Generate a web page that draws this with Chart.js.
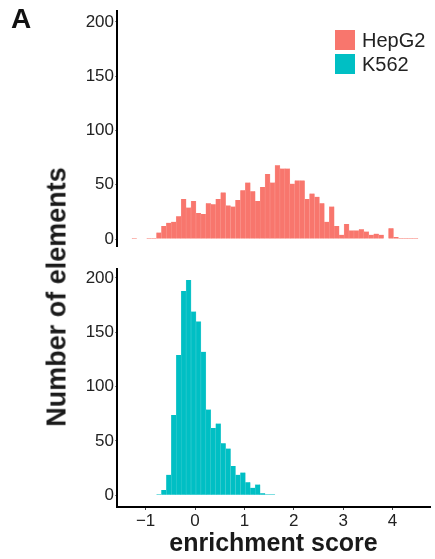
<!DOCTYPE html>
<html>
<head>
<meta charset="utf-8">
<script src="https://cdn.jsdelivr.net/npm/chart.js@4.4.0/dist/chart.umd.min.js"></script>
<style>
  body { margin: 0; background: #fff; }
  #wrap { position: relative; width: 435px; height: 559px; background: #fff; font-family: "Liberation Sans", Arial, Helvetica, sans-serif; }
  canvas { position: absolute; left: 0; }
  #panel-label { position: absolute; left: 11px; top: 5px; font-size: 28px; font-weight: bold; color: #111; line-height: 1; }
  #y-title { position: absolute; left: 57px; top: 297px; transform: translate(-50%, -50%) rotate(-90deg); font-size: 27px; font-weight: bold; color: #1a1a1a; white-space: nowrap; line-height: 1; }
  #legend { position: absolute; left: 335px; top: 28px; }
  .legend-row { display: flex; align-items: center; height: 24px; }
  .legend-key { width: 20px; height: 20px; margin-right: 7px; }
  .legend-text { font-size: 20px; color: #222; line-height: 1; }
</style>
</head>
<body>
<div id="wrap">
  <canvas id="top-chart" width="435" height="258" style="top:0"></canvas>
  <canvas id="bottom-chart" width="435" height="301" style="top:258px"></canvas>
  <div id="panel-label">A</div>
  <div id="y-title">Number of elements</div>
  <div id="legend"></div>
</div>
<script>
// bin centres of the histograms (enrichment score)
const binCenters = [
  -1.23, -1.13, -1.03, -0.93, -0.83, -0.73, -0.63, -0.53, -0.43, -0.33,
  -0.23, -0.13, -0.03, 0.07, 0.17, 0.27, 0.37, 0.47, 0.57, 0.67,
  0.77, 0.87, 0.97, 1.07, 1.17, 1.27, 1.37, 1.47, 1.57, 1.67,
  1.77, 1.87, 1.97, 2.07, 2.17, 2.27, 2.37, 2.47, 2.57, 2.67,
  2.77, 2.87, 2.97, 3.07, 3.17, 3.27, 3.37, 3.47, 3.57, 3.67,
  3.77, 3.87, 3.97, 4.07, 4.17, 4.27, 4.37, 4.47
];

// counts per bin
const hepg2Counts = [
  1, 0, 0, 1, 1, 6, 12, 15, 16, 21,
  37, 29, 35, 24, 23, 33, 32, 37, 43, 31,
  30, 36, 45, 52, 44, 35, 48, 60, 52, 68,
  65, 65, 51, 54, 54, 37, 42, 39, 33, 16,
  30, 12, 4, 14, 8, 8, 9, 7, 4, 5,
  4, 0, 10, 2, 1, 1, 1, 1
];
const k562Counts = [
  0, 0, 0, 0, 0, 1, 5, 19, 74, 129,
  188, 198, 169, 160, 132, 79, 62, 66, 48, 43,
  27, 19, 21, 12, 7, 10, 2, 1, 1, 0,
  0, 0, 0, 0, 0, 0, 0, 0, 0, 0,
  0, 0, 0, 0, 0, 0, 0, 0, 0, 0,
  0, 0, 0, 0, 0, 0, 0, 0
];

const seriesNames = ["HepG2", "K562"];
const seriesColors = ["#F8766D", "#00BFC4"];
const seriesEdges = ["#FA9890", "#4FD0D4"];

const xTicks = [-1, 0, 1, 2, 3, 4];
const yTicks = [0, 50, 100, 150, 200];

const FONT = '"Liberation Sans", Arial, Helvetica, sans-serif';

const toPoints = (counts) => binCenters.map((x, i) => ({ x: x, y: counts[i] }));

const fmtTick = (v) => (v < 0 ? "\u2212" + Math.abs(v) : String(v));

const yScale = (min, max) => ({
  min: min,
  max: max,
  afterBuildTicks: (scale) => {
    scale.ticks = yTicks.map((v) => ({ value: v }));
  },
  afterFit: (scale) => {
    scale.width = 117; // y axis line sits at x = 117
  },
  border: { display: true, color: "#000", width: 2 },
  grid: { display: true, drawOnChartArea: false, drawTicks: true, tickLength: 2, color: "#888" },
  ticks: { padding: 1, color: "#222", font: { family: FONT, size: 17 } },
});

const xScale = (show) => ({
  type: "linear",
  min: -1.58,
  max: 4.76,
  offset: false, // keep the value -> pixel mapping plain
  display: show,
  afterBuildTicks: (scale) => {
    scale.ticks = xTicks.map((v) => ({ value: v }));
  },
  afterFit: (scale) => {
    if (show) scale.height = 52;
  },
  border: { display: true, color: "#000", width: 2 },
  grid: { display: true, offset: false, drawOnChartArea: false, drawTicks: true, tickLength: 3, color: "#444" },
  ticks: {
    padding: 1,
    color: "#222",
    font: { family: FONT, size: 17 },
    maxRotation: 0,
    callback: fmtTick,
  },
  title: {
    display: show,
    text: "enrichment score",
    color: "#1a1a1a",
    padding: 0,
    font: { family: FONT, size: 25, weight: "bold" },
  },
});

const histDataset = (idx, counts) => ({
  label: seriesNames[idx],
  data: toPoints(counts),
  backgroundColor: seriesColors[idx],
  borderColor: seriesEdges[idx],
  borderWidth: { left: 0.5, right: 0.5, top: 0, bottom: 0 },
  borderSkipped: false,
  barPercentage: 1,
  categoryPercentage: 1,
});

const baseOptions = (padding, xOpts, yOpts) => ({
  responsive: false,
  animation: false,
  events: [],
  layout: { padding: padding },
  plugins: { legend: { display: false }, tooltip: { enabled: false } },
  scales: { x: xOpts, y: yOpts },
});

// top facet: HepG2
new Chart(document.getElementById("top-chart"), {
  type: "bar",
  data: { datasets: [histDataset(0, hepg2Counts)] },
  options: baseOptions({ top: 10, right: 5, bottom: 5, left: 0 }, xScale(false), yScale(-7.1, 209.8)),
});

// bottom facet: K562
new Chart(document.getElementById("bottom-chart"), {
  type: "bar",
  data: { datasets: [histDataset(1, k562Counts)] },
  options: baseOptions({ top: 4, right: 5, bottom: 0, left: 0 }, xScale(true), yScale(-10.7, 208)),
});

// legend
const legend = document.getElementById("legend");
seriesNames.forEach((name, i) => {
  const row = document.createElement("div");
  row.className = "legend-row";
  row.innerHTML =
    '<span class="legend-key" style="background:' + seriesColors[i] + '"></span>' +
    '<span class="legend-text">' + name + "</span>";
  legend.appendChild(row);
});
</script>
</body>
</html>
